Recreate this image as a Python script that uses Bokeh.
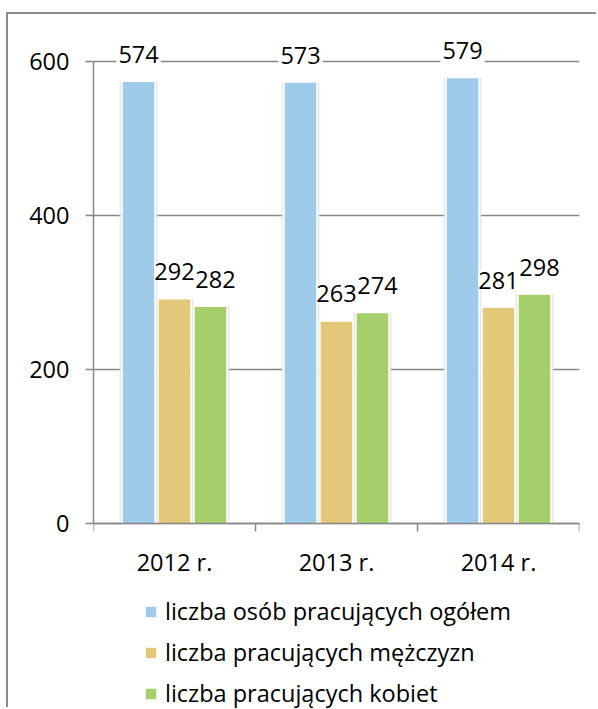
from bokeh.plotting import figure
from bokeh.models import (ColumnDataSource, FactorRange, Range1d, LinearAxis, CategoricalAxis,
                          FixedTicker, Legend, LegendItem)
from bokeh.transform import dodge
from bokeh.embed import file_html
from bokeh.resources import INLINE
from bokeh.core.properties import value

# ---- data ----
years = ["2012 r.", "2013 r.", "2014 r."]
ogolem = [574, 573, 579]
mezczyzn = [292, 263, 281]
kobiet = [282, 274, 298]
series_names = ["liczba osób pracujących ogółem",
                "liczba pracujących mężczyzn",
                "liczba pracujących kobiet"]
colors = ["#9DCBE9", "#E4C87A", "#A6CE6A"]
y_ticks = [0, 200, 400, 600]

FONT = "Open Sans"
GRAY = "#878787"
FS = "23.5px"

src = ColumnDataSource(dict(
    year=years, ogolem=ogolem, mezczyzn=mezczyzn, kobiet=kobiet,
    lab_o=[str(v) for v in ogolem],
    lab_m=[str(v) for v in mezczyzn],
    lab_k=[str(v) for v in kobiet],
))

# frame spans down to the bottom of the canvas; the area below 0 holds axis labels and legend
p = figure(width=590, height=695,
           x_range=FactorRange(*years, range_padding=0, factor_padding=0),
           y_range=Range1d(-241, 658),
           output_backend="svg", toolbar_location=None,
           x_axis_location=None,
           min_border_left=85, min_border_right=19,
           min_border_top=2, min_border_bottom=0)
p.outline_line_color = None
p.background_fill_color = "white"
p.border_fill_color = "white"
p.styles = {"border-top": "2px solid #8c8c8c", "border-left": "2px solid #8c8c8c",
            "margin-top": "12px", "margin-left": "6px"}

for g in p.xgrid:
    g.visible = False

# y axis
yax = p.yaxis[0]
yax.ticker = FixedTicker(ticks=y_ticks)
yax.bounds = (0, 600)
yax.axis_line_color = GRAY
yax.axis_line_width = 1.5
yax.major_tick_line_color = GRAY
yax.major_tick_line_width = 1.5
yax.major_tick_out = 8
yax.major_tick_in = 0
yax.minor_tick_line_color = None
yax.major_label_text_font = FONT
yax.major_label_text_font_size = FS
yax.major_label_text_color = "black"
yax.major_label_standoff = 16

p.ygrid.grid_line_color = GRAY
p.ygrid.grid_line_width = 1.5

# x axis at y=0: boundary ticks (synthetic coordinates of category edges) + categorical labels
eax = LinearAxis(ticker=FixedTicker(ticks=list(range(len(years) + 1))), fixed_location=0,
                 major_label_text_font_size="1px", major_label_text_color=None,
                 major_label_standoff=0,
                 axis_line_color=GRAY, axis_line_width=1.5,
                 major_tick_line_color=GRAY, major_tick_line_width=1.5,
                 major_tick_out=8, major_tick_in=0, minor_tick_line_color=None)
p.add_layout(eax, "below")
cax = CategoricalAxis(fixed_location=0, axis_line_color=None, major_tick_line_color=None,
                      minor_tick_line_color=None, major_tick_out=0, major_tick_in=0,
                      major_label_text_font=FONT, major_label_text_font_size=FS,
                      major_label_text_color="black", major_label_standoff=22)
p.add_layout(cax, "below")

# bars
w = 0.204
offs = [-0.222, 0.0, 0.222]
cols = ["ogolem", "mezczyzn", "kobiet"]
labs = ["lab_o", "lab_m", "lab_k"]
label_dx = [0, 0, 5]
label_pad = [(2, 9), (0, 1), (0, 1)]
renderers = []
for i in range(3):
    p.vbar(x=dodge("year", offs[i], range=p.x_range), top=cols[i], width=w + 0.03,
           source=src, fill_color="#e4e4e4", line_color=None, fill_alpha=0.8)
for i in range(3):
    r = p.vbar(x=dodge("year", offs[i], range=p.x_range), top=cols[i], width=w,
               source=src, fill_color=colors[i], line_color="white", line_width=1.5)
    renderers.append(r)
for i in range(3):
    p.text(x=dodge("year", offs[i], range=p.x_range), y=cols[i], text=labs[i], source=src,
           text_align="center", text_baseline="middle", x_offset=label_dx[i], y_offset=-27,
           text_font=value(FONT), text_font_size=FS, text_color="black",
           background_fill_color="white", padding=label_pad[i])

legend = Legend(items=[LegendItem(label=series_names[i], renderers=[renderers[i]]) for i in range(3)],
                location=(50, 0), orientation="vertical",
                label_text_font=FONT, label_text_font_size=FS, label_text_color="black",
                glyph_width=15, glyph_height=15, label_standoff=7, spacing=9,
                padding=0, margin=0, border_line_color=None, background_fill_alpha=0,
                label_height=32)
p.add_layout(legend)

open("out.html", "w").write(file_html(p, INLINE))
